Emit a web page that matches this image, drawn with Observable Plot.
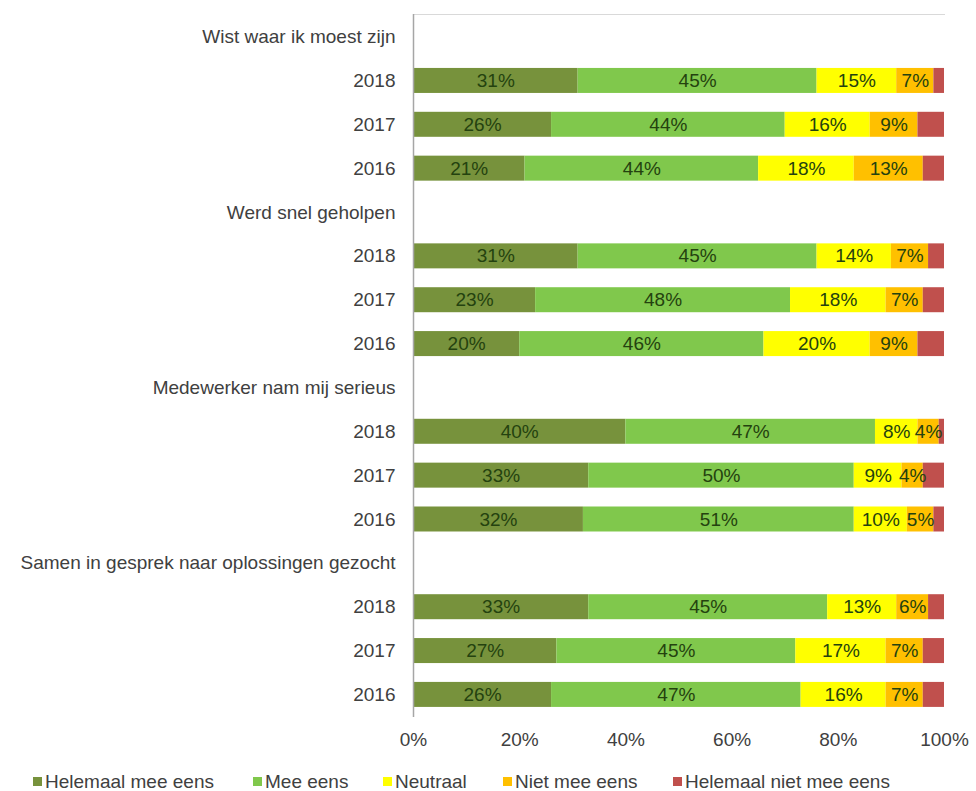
<!DOCTYPE html>
<html>
<head>
<meta charset="utf-8">
<script src="https://cdn.jsdelivr.net/npm/d3@7"></script>
<script src="https://cdn.jsdelivr.net/npm/@observablehq/plot@0.6"></script>
<style>
  body { margin: 0; background: #fff; font-family: "Liberation Sans", Arial, sans-serif; }
  #legend { position: relative; height: 31px; font-size: 19px; color: #404040; }
  #legend .item { position: absolute; top: 11px; white-space: nowrap; line-height: 22px; }
  #legend .sw { display: inline-block; width: 9px; height: 9px; margin-right: 3px; vertical-align: 2px; }
</style>
</head>
<body>
<div id="chart"></div>
<div id="legend"></div>
<script>
const questions = [
  "Wist waar ik moest zijn",
  "Werd snel geholpen",
  "Medewerker nam mij serieus",
  "Samen in gesprek naar oplossingen gezocht"
];
const years = ["2018", "2017", "2016"];
const categories = ["Helemaal mee eens", "Mee eens", "Neutraal", "Niet mee eens", "Helemaal niet mee eens"];
const colors = ["#77923c", "#80c84c", "#ffff00", "#ffc000", "#c0504d"];

// values per question, per year (2018, 2017, 2016), per category
const wistWaar   = [[31, 45, 15, 7, 2], [26, 44, 16, 9, 5], [21, 44, 18, 13, 4]];
const snelGeholpen = [[31, 45, 14, 7, 3], [23, 48, 18, 7, 4], [20, 46, 20, 9, 5]];
const serieus    = [[40, 47, 8, 4, 1], [33, 50, 9, 4, 4], [32, 51, 10, 5, 2]];
const samen      = [[33, 45, 13, 6, 3], [27, 45, 17, 7, 4], [26, 47, 16, 7, 4]];
const allValues = [wistWaar, snelGeholpen, serieus, samen];

const xTicks = [0, 20, 40, 60, 80, 100];

// build rows
const rowKeys = [];
const rowLabel = new Map();
const data = [];
questions.forEach((q, qi) => {
  const hk = "q" + qi;
  rowKeys.push(hk);
  rowLabel.set(hk, q);
  years.forEach((y, yi) => {
    const k = "q" + qi + "-" + y;
    rowKeys.push(k);
    rowLabel.set(k, y);
    allValues[qi][yi].forEach((v, ci) => {
      data.push({row: k, cat: categories[ci], v});
    });
  });
});

const plot = Plot.plot({
  width: 976,
  height: 760,
  marginLeft: 413,
  marginRight: 32,
  marginTop: 14,
  marginBottom: 43,
  style: {fontFamily: "Liberation Sans, Arial, sans-serif", fontSize: "19px", color: "#404040"},
  x: {domain: [0, 100], ticks: xTicks, tickFormat: d => d + "%", tickSize: 0, tickPadding: 15, label: null},
  y: {domain: rowKeys, paddingInner: 0.43, paddingOuter: 0.23, round: false, tickSize: 0, tickPadding: 18, tickFormat: k => rowLabel.get(k), label: null},
  color: {domain: categories, range: colors},
  marks: [
    Plot.frame({anchor: "top", stroke: "#d9d9d9"}),
    Plot.barX(data, Plot.stackX({x: "v", y: "row", fill: "cat", order: categories})),
    Plot.textX(data, Plot.stackX({
      x: "v", y: "row", z: "cat", order: categories,
      text: d => d.cat === categories[4] ? "" : d.v + "%",
      fill: "#24420f", fontSize: 19
    })),
    Plot.ruleX([0], {stroke: "#a6a6a6", strokeWidth: 1.5})
  ]
});
document.getElementById("chart").appendChild(plot);

const legendLeft = [33, 253, 383, 503, 673];
const legend = document.getElementById("legend");
categories.forEach((c, i) => {
  const it = document.createElement("span");
  it.className = "item";
  it.style.left = legendLeft[i] + "px";
  it.innerHTML = `<span class="sw" style="background:${colors[i]}"></span>${c}`;
  legend.appendChild(it);
});
</script>
</body>
</html>
